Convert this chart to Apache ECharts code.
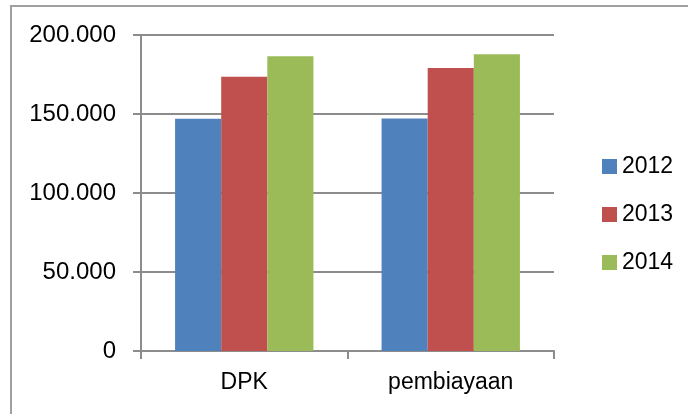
<!DOCTYPE html>
<html>
<head>
<meta charset="utf-8">
<script src="https://cdn.jsdelivr.net/npm/echarts@6/dist/echarts.min.js"></script>
<style>
  html, body { margin: 0; padding: 0; background: #fff; }
  #chart { width: 688px; height: 414px; }
</style>
</head>
<body>
<div id="chart"></div>
<script>
// Categories and yearly values (in thousands-formatted units)
const categories = ['DPK', 'pembiayaan'];
const years = ['2012', '2013', '2014'];
const values2012 = [147000, 147200];
const values2013 = [173600, 179100];
const values2014 = [186500, 187800];
const yTicks = [0, 50000, 100000, 150000, 200000];

const colors = ['#4F81BD', '#C0504D', '#9BBB59'];
const fontFamily = '"Liberation Sans", Arial, sans-serif';
const gridGray = '#8c8c8c';

// Indonesian number format: dot as thousands separator
function fmt(v) {
  return String(Math.round(v)).replace(/\B(?=(\d{3})+(?!\d))/g, '.');
}

const seriesValues = [values2012, values2013, values2014];

const chart = echarts.init(document.getElementById('chart'), null, { renderer: 'canvas' });

chart.setOption({
  backgroundColor: '#fff',
  animation: false,
  color: colors,
  textStyle: { fontFamily: fontFamily, color: '#000' },
  graphic: [{
    type: 'rect',
    shape: { x: 11, y: 6, width: 700, height: 430 },
    style: { fill: 'none', stroke: '#a0a0a0', lineWidth: 2 },
    silent: true
  }],
  grid: { left: 141, right: 134, top: 35, bottom: 63 },
  legend: {
    orient: 'vertical',
    left: 597,
    top: 149,
    icon: 'rect',
    itemWidth: 15,
    itemHeight: 15,
    itemGap: 23,
    data: years,
    textStyle: { fontSize: 23, lineHeight: 25, color: '#000', fontFamily: fontFamily }
  },
  xAxis: {
    type: 'category',
    data: categories,
    axisLine: { lineStyle: { color: gridGray, width: 2 } },
    axisTick: { show: true, length: 8, lineStyle: { color: gridGray, width: 2 } },
    axisLabel: { fontSize: 23, color: '#000', margin: 20, fontFamily: fontFamily },
    splitLine: { show: false }
  },
  yAxis: {
    type: 'value',
    min: yTicks[0],
    max: yTicks[yTicks.length - 1],
    interval: yTicks[1] - yTicks[0],
    axisLine: { show: true, lineStyle: { color: gridGray, width: 2 } },
    axisTick: { show: true, length: 8, lineStyle: { color: gridGray, width: 2 } },
    axisLabel: { fontSize: 24, color: '#000', margin: 25, fontFamily: fontFamily, formatter: fmt },
    splitLine: { show: true, lineStyle: { color: gridGray, width: 2 } }
  },
  series: years.map((y, i) => ({
    name: y,
    type: 'bar',
    data: seriesValues[i],
    barGap: '0%',
    barCategoryGap: '33%',
    itemStyle: { color: colors[i] }
  }))
});
</script>
</body>
</html>
